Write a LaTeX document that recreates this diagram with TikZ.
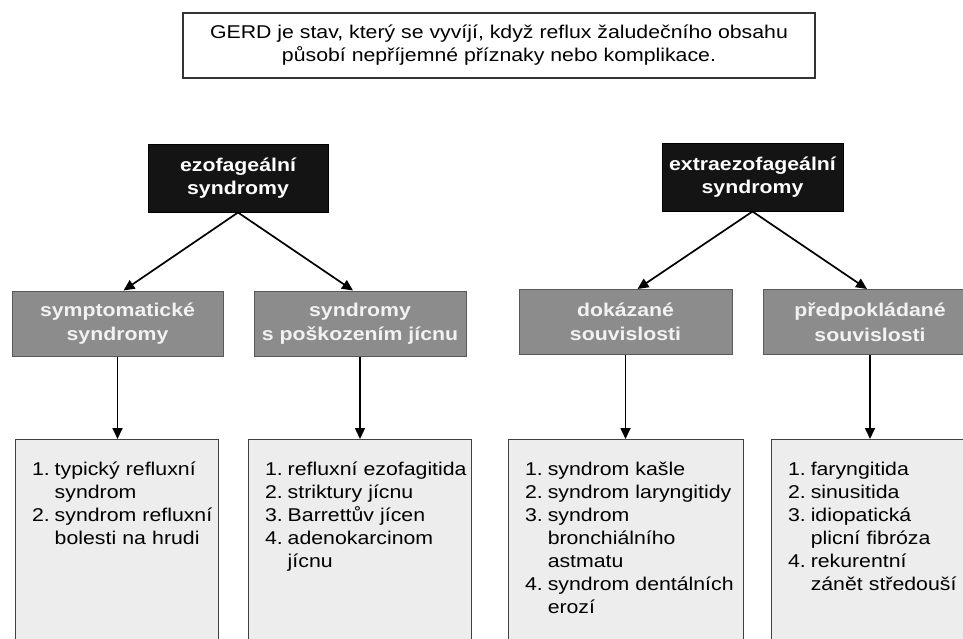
\documentclass[tikz,border=0pt]{standalone}
\usepackage{fontspec}
\setmainfont[FakeStretch=1.15]{Liberation Sans}
\usepackage{tikz}
\usetikzlibrary{arrows.meta,positioning,calc}

\newcommand{\txtsize}{\fontsize{18.5}{23}\selectfont}
\tikzset{
    topbox/.style={draw=black!80, line width=1.2pt, fill=white, minimum width=632, minimum height=65, align=center, font=\txtsize},
    blackbox/.style={draw=black, line width=1pt, fill=black!92, text=white, minimum width=181, minimum height=67, align=center, inner sep=0pt, font=\bfseries\txtsize},
    graybox/.style={draw=black!65, line width=1pt, fill=black!45, text=white!95!black, minimum width=212, minimum height=65, align=center, inner sep=0pt, font=\bfseries\fontsize{18.5}{24.5}\selectfont},
    listbox/.style={draw=black!75, line width=1pt, fill=black!7, anchor=north, inner xsep=17pt, inner ysep=0pt, text height=36pt, text depth=230pt, align=left, font=\txtsize},
    link/.style={line width=1.7pt, -{Triangle[length=11pt,width=10pt]}}
}
\newcommand{\items}[1]{\begin{tabular}[t]{@{}l@{\hspace{5pt}}l@{}}#1\end{tabular}}

\begin{document}
\begin{tikzpicture}[x=1pt,y=-1pt]
    \useasboundingbox (0,0) rectangle (963,639);
    \fill[white] (0,0) rectangle (963,639);
    \clip (0,0) rectangle (963,639);
    \pgfmathsetmacro{\listtop}{439}

    \node[topbox] (gerd) at (499,45.5) {GERD je stav, který se vyvíjí, když reflux žaludečního obsahu\\působí nepříjemné příznaky nebo komplikace.};

    % ezofagealni vetev
    \node[blackbox, minimum width=180] (ezo) at (238,178.5) {ezofageální\\syndromy};
    \node[graybox, minimum width=211] (sympt) at (117.5,323.5) {symptomatické\\syndromy};
    \node[graybox] (posk) at (360,323.5) {syndromy\\s poškozením jícnu};
    \node[listbox, text width=169] (sympt list) at (116.5,\listtop) {\items{1. & typický refluxní\\ & syndrom\\ 2. & syndrom refluxní\\ & bolesti na hrudi}};
    \node[listbox, text width=189] (posk list) at (359.5,\listtop) {\items{1. & refluxní ezofagitida\\ 2. & striktury jícnu\\ 3. & Barrettův jícen\\ 4. & adenokarcinom\\ & jícnu}};

    % extraezofagealni vetev
    \node[blackbox] (extra) at (752.5,177.5) {extraezofageální\\syndromy};
    \node[graybox, minimum width=213] (dokaz) at (625.5,322) {dokázané\\souvislosti};
    \node[graybox, minimum width=214] (predp) at (870,322) {předpokládané\\souvislosti};
    \node[listbox, text width=201] (dokaz list) at (625.5,\listtop) {\items{1. & syndrom kašle\\ 2. & syndrom laryngitidy\\ 3. & syndrom\\ & bronchiálního\\ & astmatu\\ 4. & syndrom dentálních\\ & erozí}};
    \node[listbox, text width=186] (predp list) at (881,\listtop) {\items{1. & faryngitida\\ 2. & sinusitida\\ 3. & idiopatická\\ & plicní fibróza\\ 4. & rekurentní\\ & zánět středouší}};

    \draw[link] (ezo.south) -- ([xshift=6pt]sympt.north);
    \draw[link] (ezo.south) -- ([xshift=-7pt]posk.north);
    \draw[link] (extra.south) -- ([xshift=12pt]dokaz.north);
    \draw[link] (extra.south) -- ([xshift=-3pt]predp.north);

    \draw[link] (sympt.south) -- (sympt.south |- sympt list.north);
    \draw[link] (posk.south) -- (posk.south |- posk list.north);
    \draw[link] (dokaz.south) -- (dokaz.south |- dokaz list.north);
    \draw[link] (predp.south) -- (predp.south |- predp list.north);

\end{tikzpicture}
\end{document}
